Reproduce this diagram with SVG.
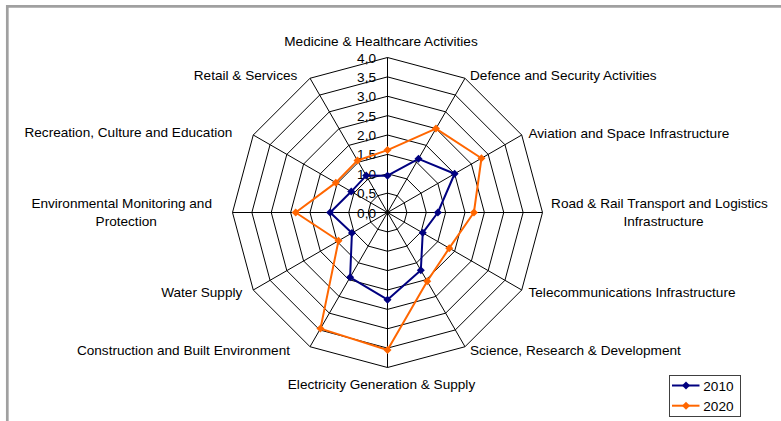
<svg xmlns="http://www.w3.org/2000/svg" width="781" height="421" viewBox="0 0 781 421">
<style>
text{font-family:"Liberation Sans",Arial,sans-serif;font-size:13.6px;fill:#000}
.grid{fill:none;stroke:#000;stroke-width:1}
.s2010{fill:none;stroke:#000080;stroke-width:2;stroke-linejoin:round}
.s2020{fill:none;stroke:#FF6600;stroke-width:2;stroke-linejoin:round}
.tick{text-anchor:end}
.mid{text-anchor:middle}
.end{text-anchor:end}
</style>
<defs>
<marker id="m2010" markerUnits="userSpaceOnUse" markerWidth="10" markerHeight="10" refX="5" refY="5" viewBox="0 0 10 10" overflow="visible"><polygon points="5,1 9,5 5,9 1,5" fill="#000080"/></marker>
<marker id="m2020" markerUnits="userSpaceOnUse" markerWidth="10" markerHeight="10" refX="5" refY="5" viewBox="0 0 10 10" overflow="visible"><polygon points="5,1 9,5 5,9 1,5" fill="#FF6600"/></marker>
</defs>
<rect x="0" y="0" width="781" height="421" fill="#fff"/>
<g id="frame" fill="none" stroke="#a0a0a0" stroke-width="2.7">
<line x1="7.3" y1="5" x2="7.3" y2="421"/>
<line x1="6" y1="6.3" x2="781" y2="6.3"/>
</g>
<g id="grid" class="grid" transform="translate(387.5 212.5)">
<polygon points="0,-19.375 9.69,-16.78 16.78,-9.69 19.375,0 16.78,9.69 9.69,16.78 0,19.375 -9.69,16.78 -16.78,9.69 -19.375,0 -16.78,-9.69 -9.69,-16.78"/>
<polygon points="0,-38.75 19.375,-33.56 33.56,-19.375 38.75,0 33.56,19.375 19.375,33.56 0,38.75 -19.375,33.56 -33.56,19.375 -38.75,0 -33.56,-19.375 -19.375,-33.56"/>
<polygon points="0,-58.125 29.06,-50.34 50.34,-29.06 58.125,0 50.34,29.06 29.06,50.34 0,58.125 -29.06,50.34 -50.34,29.06 -58.125,0 -50.34,-29.06 -29.06,-50.34"/>
<polygon points="0,-77.5 38.75,-67.12 67.12,-38.75 77.5,0 67.12,38.75 38.75,67.12 0,77.5 -38.75,67.12 -67.12,38.75 -77.5,0 -67.12,-38.75 -38.75,-67.12"/>
<polygon points="0,-96.875 48.44,-83.9 83.9,-48.44 96.875,0 83.9,48.44 48.44,83.9 0,96.875 -48.44,83.9 -83.9,48.44 -96.875,0 -83.9,-48.44 -48.44,-83.9"/>
<polygon points="0,-116.25 58.13,-100.67 100.67,-58.13 116.25,0 100.67,58.13 58.13,100.67 0,116.25 -58.13,100.67 -100.67,58.13 -116.25,0 -100.67,-58.13 -58.13,-100.67"/>
<polygon points="0,-135.625 67.81,-117.45 117.45,-67.81 135.625,0 117.45,67.81 67.81,117.45 0,135.625 -67.81,117.45 -117.45,67.81 -135.625,0 -117.45,-67.81 -67.81,-117.45"/>
<polygon points="0,-155 77.5,-134.23 134.23,-77.5 155,0 134.23,77.5 77.5,134.23 0,155 -77.5,134.23 -134.23,77.5 -155,0 -134.23,-77.5 -77.5,-134.23"/>
<path d="M0,0L0,-155M0,0L77.5,-134.23M0,0L134.23,-77.5M0,0L155,0M0,0L134.23,77.5M0,0L77.5,134.23M0,0L0,155M0,0L-77.5,134.23M0,0L-134.23,77.5M0,0L-155,0M0,0L-134.23,-77.5M0,0L-77.5,-134.23"/>
</g>
<g id="ticks" class="tick">
<text x="376" y="217.5">0,0</text>
<text x="376" y="198.1">0,5</text>
<text x="376" y="178.8">1,0</text>
<text x="376" y="159.4">1,5</text>
<text x="376" y="140">2,0</text>
<text x="376" y="120.6">2,5</text>
<text x="376" y="101.3">3,0</text>
<text x="376" y="81.9">3,5</text>
<text x="376" y="62.5">4,0</text>
</g>
<g id="connectors" transform="translate(387.5 212.5)">
<polygon id="series2010" class="s2010" marker-start="url(#m2010)" marker-mid="url(#m2010)" points="0,-36.81 31,-53.69 67.12,-38.75 50.38,0 35.24,20.34 33.33,57.72 0,87.19 -37.39,64.77 -35.57,20.54 -57.35,0 -36.24,-20.93 -21.31,-36.91"/>
<polygon id="series2020" class="s2020" marker-start="url(#m2020)" marker-mid="url(#m2020)" points="0,-62.39 48.44,-83.9 93.96,-54.25 86.41,0 61.75,35.65 39.72,68.8 0,137.56 -67.04,116.12 -49,28.29 -91.84,0 -51.68,-29.84 -30.03,-52.02"/>
</g>
<g id="label-medicine"><text class="mid" x="381" y="46">Medicine &amp; Healthcare Activities</text></g>
<g id="label-defence"><text x="470" y="79.5">Defence and Security Activities</text></g>
<g id="label-aviation"><text x="528.5" y="137.5">Aviation and Space Infrastructure</text></g>
<g id="label-road"><text class="mid" x="659.5" y="207.5">Road &amp; Rail Transport and Logistics</text><text class="mid" x="663.5" y="225.5">Infrastructure</text></g>
<g id="label-telecom"><text x="528.5" y="297">Telecommunications Infrastructure</text></g>
<g id="label-science"><text x="470" y="354.7">Science, Research &amp; Development</text></g>
<g id="label-electricity"><text class="mid" x="381.5" y="389">Electricity Generation &amp; Supply</text></g>
<g id="label-construction"><text class="end" x="290" y="354.7">Construction and Built Environment</text></g>
<g id="label-water"><text class="end" x="242.3" y="297">Water Supply</text></g>
<g id="label-environment"><text class="mid" x="121.7" y="208">Environmental Monitoring and</text><text class="mid" x="126.2" y="225.7">Protection</text></g>
<g id="label-recreation"><text class="end" x="232.3" y="137.4">Recreation, Culture and Education</text></g>
<g id="label-retail"><text class="end" x="297.3" y="79.7">Retail &amp; Services</text></g>
<g id="legend">
<rect x="669.5" y="375.5" width="71" height="41" fill="#fff" stroke="#404040" stroke-width="1"/>
<line x1="672" y1="385.5" x2="699.5" y2="385.5" stroke="#000080" stroke-width="2"/>
<polygon points="686,381.5 690,385.5 686,389.5 682,385.5" fill="#000080"/>
<text x="703.3" y="390.5">2010</text>
<line x1="672" y1="405.7" x2="699.5" y2="405.7" stroke="#FF6600" stroke-width="2"/>
<polygon points="686,401.7 690,405.7 686,409.7 682,405.7" fill="#FF6600"/>
<text x="703.3" y="411">2020</text>
</g>
</svg>
